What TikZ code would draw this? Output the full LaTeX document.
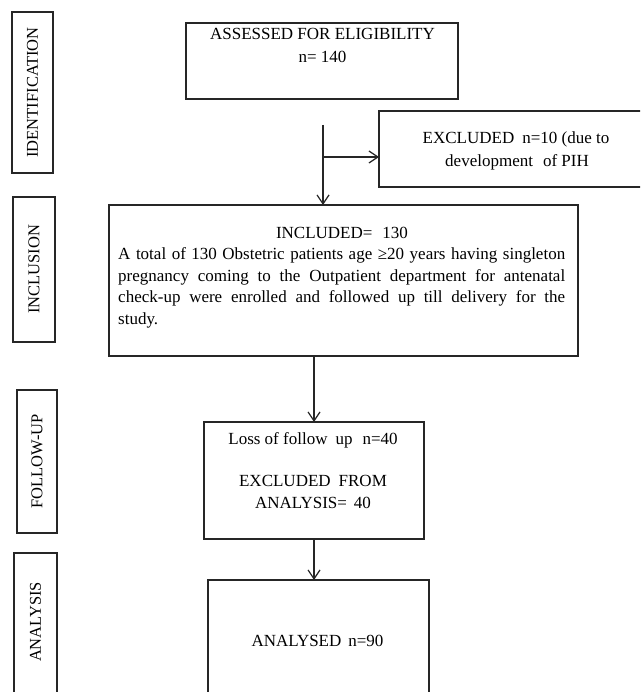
\documentclass[tikz,border=0pt]{standalone}
\usepackage{fontspec}
\setmainfont{Liberation Serif}
\usetikzlibrary{arrows.meta}
\begin{document}
\begin{tikzpicture}[x=1pt,y=-1pt,
  boxn/.style={draw=black!85, line width=1.3pt, inner sep=0pt, outer sep=0pt},
  txt/.style={inner sep=0pt, anchor=base, font=\fontsize{17}{21.5}\selectfont, text=black},
  side/.style={inner sep=0pt, rotate=90, font=\fontsize{16.5}{20}\selectfont, text=black},
  arr/.style={draw=black!85, line width=1.2pt, -{Straight Barb[length=9pt,width=12pt,line width=1.2pt]}}]
\clip (0,0) rectangle (640,692);
\fill[white] (0,0) rectangle (640,692);
% side boxes
\node[boxn, minimum width=41pt, minimum height=161pt] (idbox) at (32.5,92.5) {};
\node[side] (idtxt) at (idbox.center) {IDENTIFICATION};
\node[boxn, minimum width=42pt, minimum height=145pt] (inbox) at (34,269.5) {};
\node[side] (intxt) at (inbox.center) {INCLUSION};
\node[boxn, minimum width=40pt, minimum height=143pt] (fubox) at (37,461.5) {};
\node[side] (futxt) at (fubox.center) {FOLLOW-UP};
\node[boxn, minimum width=43pt, minimum height=147pt] (anbox) at (35.5,626.5) {};
\node[side] (antxt) at (35.5,622) {ANALYSIS};
% main boxes
\node[boxn, minimum width=272pt, minimum height=76pt] (assess) at (322,61) {};
\node[txt] (as1) at (322.5,40) {ASSESSED FOR ELIGIBILITY};
\node[txt] (as2) at (322.5,63) {n= 140};
\node[boxn, minimum width=274pt, minimum height=76pt] (excl) at (516,149) {};
\node[txt] (ex1) at (516,144) {EXCLUDED\hspace{8pt}n=10 (due to};
\node[txt] (ex2) at (517,167) {development\hspace{10pt}of PIH};
\node[boxn, minimum width=469pt, minimum height=151pt] (incl) at (343.5,280.5) {};
\node[txt] (in0) at (342,239) {INCLUDED=\hspace{10pt}130};
\node[txt, anchor=base west] (in1) at (118,259.5) {\makebox[447pt][s]{A total of 130 Obstetric patients age ≥20 years having singleton}};
\node[txt, anchor=base west] (in2) at (118,281) {\makebox[447pt][s]{pregnancy coming to the Outpatient department for antenatal}};
\node[txt, anchor=base west] (in3) at (118,302.5) {\makebox[447pt][s]{check-up were enrolled and followed up till delivery for the}};
\node[txt, anchor=base west] (in4) at (118,324) {study.};
\node[boxn, minimum width=220pt, minimum height=117pt] (loss) at (314,480.5) {};
\node[txt] (lo1) at (313,444) {Loss of follow\hspace{8pt}up\hspace{10pt}n=40};
\node[txt] (lo2) at (313,486) {EXCLUDED\hspace{8pt}FROM};
\node[txt] (lo3) at (313,508) {ANALYSIS=\hspace{7pt}40};
\node[boxn, minimum width=221pt, minimum height=120pt] (anal) at (318.5,640) {};
\node[txt] (an1) at (317.5,646) {ANALYSED\hspace{7pt}n=90};
% connectors
\coordinate (a0) at (323,125);
\coordinate (br) at (323,157);
\draw[arr] (a0) -- (a0 |- incl.north);
\draw[arr] (br) -- (br -| excl.west);
\draw[arr] (loss.north |- incl.south) -- (loss.north);
\draw[arr] (loss.south) -- (loss.south |- anal.north);
\end{tikzpicture}
\end{document}
